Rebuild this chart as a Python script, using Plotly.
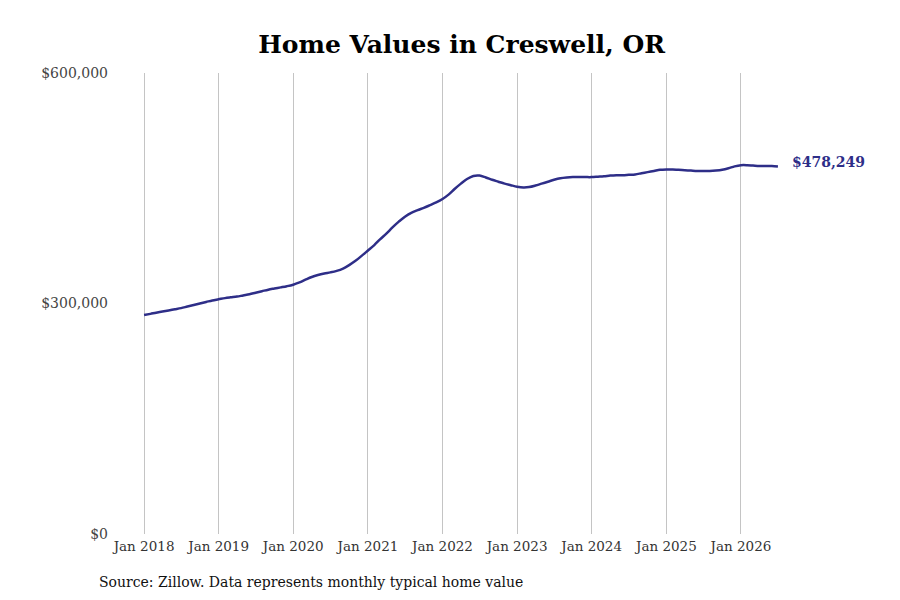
import pandas as pd
import plotly.graph_objects as go

# monthly typical home value (USD), Jan 2018 .. Jul 2026
months = pd.date_range("2018-01-01", "2026-07-01", freq="MS")
values = [
    285000, 286500, 288000, 289500, 291000, 292500, 294000, 296000, 298000, 300000, 302000, 304000,  # 2018
    305500, 307000, 308000, 309000, 310500, 312000, 314000, 316000, 318000, 319500, 321000, 322500,  # 2019
    324500, 327500, 331000, 334500, 337000, 339000, 340500, 342500, 345500, 350000, 355500, 362000,  # 2020
    369000, 376000, 383500, 391000, 399000, 406500, 413000, 418000, 421500, 424500, 428000, 431500,  # 2021
    436000, 442000, 449000, 456000, 462000, 466000, 466500, 464000, 461000, 458500, 456000, 454000,  # 2022
    452000, 451000, 451500, 453500, 456000, 458500, 461000, 463000, 464000, 464500, 464500, 464500,  # 2023
    464500, 465000, 465500, 466500, 467000, 467000, 467500, 468000, 469500, 471000, 472500, 474000,  # 2024
    474500, 474500, 474000, 473500, 473000, 472500, 472500, 472500, 473000, 474000, 476000, 478500,  # 2025
    480000, 480000, 479500, 479000, 479000, 479000, 478249,                                          # 2026
]
tick_dates = pd.date_range("2018-01-01", "2026-01-01", freq="YS")
tick_text = [d.strftime("Jan %Y") for d in tick_dates]
y_ticks = [0, 300000, 600000]
y_text = ["$0", "$300,000", "$600,000"]

LINE = "#2e2e88"
SERIF = "DejaVu Serif, serif"

fig = go.Figure()
fig.add_trace(go.Scatter(
    x=months, y=values, mode="lines",
    line=dict(color=LINE, width=2.5, shape="spline", smoothing=1),
    hoverinfo="skip", showlegend=False,
))

fig.add_annotation(
    x=months[-1], y=values[-1], text=f"<b>${values[-1]:,}</b>",
    showarrow=False, xanchor="left", xshift=12, yshift=5,
    font=dict(family=SERIF, size=14, color=LINE),
)
fig.add_annotation(
    x=-0.022, y=-0.104, xref="paper", yref="paper",
    text="Source: Zillow. Data represents monthly typical home value",
    showarrow=False, xanchor="left", yanchor="middle",
    font=dict(family=SERIF, size=14, color="#111"),
)

fig.update_layout(
    width=900, height=600,
    margin=dict(l=104, r=108, t=65, b=74),
    paper_bgcolor="white", plot_bgcolor="white",
    title=dict(
        text="<b>Home Values in Creswell, OR</b>",
        x=0.504, xref="container", xanchor="center",
        y=0.94, yref="container", yanchor="middle",
        font=dict(family=SERIF, size=25, color="black"),
    ),
    xaxis=dict(
        range=["2017-07-28", "2026-10-17"],
        tickvals=tick_dates, ticktext=tick_text,
        showgrid=True, gridcolor="#c4c4c4", gridwidth=1,
        zeroline=False, showline=False, ticks="",
        ticklabelstandoff=2,
        tickfont=dict(family=SERIF, size=13.5, color="#333"),
    ),
    yaxis=dict(
        range=[0, 600000],
        tickvals=y_ticks, ticktext=y_text,
        showgrid=False, zeroline=False, showline=False, ticks="",
        ticklabelstandoff=3,
        tickfont=dict(family=SERIF, size=14, color="#444"),
    ),
)

fig.write_html("out.html")
